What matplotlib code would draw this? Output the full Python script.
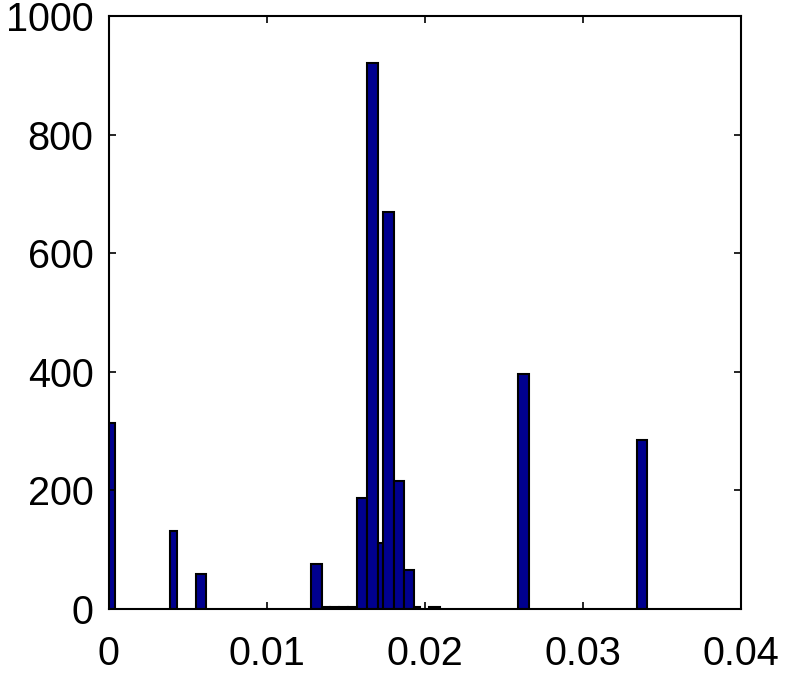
import matplotlib
matplotlib.use("Agg")
import matplotlib.pyplot as plt

# bar centres, widths and counts
centers = [0.00003, 0.0041, 0.00584, 0.01312,
           0.01374, 0.01429, 0.01485, 0.01540,
           0.01599, 0.01666, 0.01718, 0.01771, 0.01837, 0.01901,
           0.01950, 0.02061, 0.02625, 0.03373]
widths = [0.00068, 0.00046, 0.000675, 0.00068,
          0.000554, 0.000554, 0.000554, 0.000554,
          0.000633, 0.000696, 0.000354, 0.000696, 0.000633, 0.000633,
          0.00036, 0.000677, 0.000677, 0.000671]
counts = [314, 131, 59, 76,
          4, 4, 4, 4,
          187, 920, 111, 670, 215, 66,
          3, 4, 396, 285]

xticks = [0, 0.01, 0.02, 0.03, 0.04]
xticklabels = ["0", "0.01", "0.02", "0.03", "0.04"]
yticks = [0, 200, 400, 600, 800, 1000]

plt.rcParams['font.family'] = ['Liberation Sans', 'DejaVu Sans']

fig = plt.figure(figsize=(7.89, 6.78), dpi=100)
ax = fig.add_axes([0.138, 0.1018, 0.801, 0.8746])

ax.bar(centers, counts, width=widths, color="#00008F",
       edgecolor="black", linewidth=1.5)

ax.set_xlim(0, 0.04)
ax.set_ylim(0, 1000)
ax.set_xticks(xticks)
ax.set_xticklabels(xticklabels)
ax.set_yticks(yticks)
ax.tick_params(direction="in", length=5, width=1.2, labelsize=28.5,
               top=True, right=True)
ax.tick_params(axis="x", pad=19)
ax.tick_params(axis="y", pad=11)
for s in ax.spines.values():
    s.set_linewidth(1.5)

fig.savefig("out.png", dpi=100)
